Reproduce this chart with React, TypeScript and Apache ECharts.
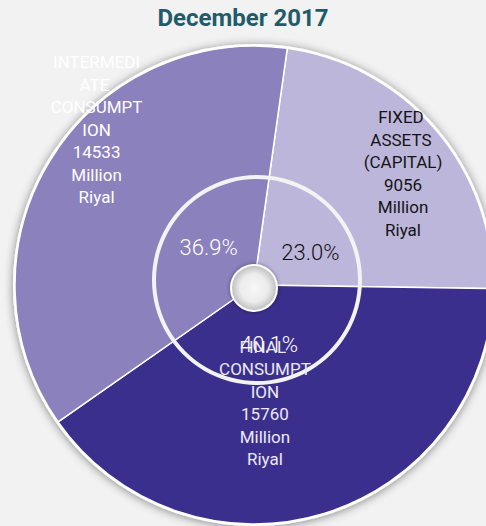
import React, { useEffect, useRef } from "react";
import * as echarts from "echarts";

const titleText = "December 2017";
const categories = ["FIXED ASSETS (CAPITAL)", "FINAL CONSUMPTION", "INTERMEDIATE CONSUMPTION"];
const values = [9056, 15760, 14533];
const unitLines = ["Million", "Riyal"];

const sliceColors = ["#bdb6db", "#3b2f8d", "#8b81bc"];
const nameColors = ["#141414", "#ebe9f4", "#ffffff"];
const pctColors = ["#111111", "#ffffff", "#ffffff"];

export default function App() {
  const ref = useRef<HTMLDivElement>(null);
  useEffect(() => {
    document.body.style.margin = "0";
    const chart = echarts.init(ref.current!, undefined, { renderer: "svg" });
    const center = [254, 285];
    const nameOffsets = [
      [56, -32],
      [-25, 1],
      [-53, -91],
    ];
    const pctOffsets = [
      [7, 10],
      [-4, -3],
      [10, -4],
    ];
    const option: any = {
      animation: false,
      backgroundColor: "#f2f2f2",
      title: {
        text: titleText,
        left: "center",
        top: 1,
        textStyle: { color: "#1f5b6b", fontSize: 24, fontWeight: "bold", fontFamily: "Roboto" },
      },
      series: [
        {
          type: "pie",
          silent: true,
          center,
          radius: [0, 241],
          label: { show: false },
          labelLine: { show: false },
          itemStyle: { color: "#ffffff", shadowBlur: 10, shadowColor: "rgba(0,0,0,0.45)", shadowOffsetY: 1 },
          data: [{ value: 1, name: "bg" }],
        },
        {
          type: "pie",
          center,
          radius: [0, 239],
          startAngle: 82,
          clockwise: true,
          silent: true,
          itemStyle: { borderColor: "#ffffff", borderWidth: 1.5 },
          labelLine: { show: false },
          label: {
            show: true,
            position: "inside",
            fontFamily: "Roboto",
            fontSize: 17,
            lineHeight: 22.5,
            width: 94,
            overflow: "break",
            align: "center",
            formatter: (p: any) => [p.name, String(p.value), ...unitLines].join("\n"),
          },
          labelLayout: (p: any) => ({ dx: nameOffsets[p.dataIndex][0], dy: nameOffsets[p.dataIndex][1] }),
          data: categories.map((c, i) => ({
            name: c,
            value: values[i],
            itemStyle: { color: sliceColors[i] },
            label: { color: nameColors[i] },
          })),
        },
        {
          type: "pie",
          center,
          radius: [0, 124],
          startAngle: 82,
          silent: true,
          percentPrecision: 1,
          itemStyle: { color: "rgba(0,0,0,0)" },
          labelLine: { show: false },
          label: {
            show: true,
            position: "inside",
            fontFamily: "Roboto",
            fontSize: 22,
            fontWeight: 300,
            formatter: (p: any) => Number(p.percent).toFixed(1) + "%",
          },
          labelLayout: (p: any) => ({ dx: pctOffsets[p.dataIndex][0], dy: pctOffsets[p.dataIndex][1] }),
          data: categories.map((c, i) => ({
            name: c,
            value: values[i],
            label: { color: pctColors[i] },
          })),
        },
        {
          type: "pie",
          silent: true,
          center: [257, 280],
          radius: [101, 105],
          label: { show: false },
          labelLine: { show: false },
          itemStyle: { color: "#f3f3f3" },
          data: [{ value: 1, name: "ring" }],
        },
      ],
      graphic: [
        {
          type: "circle",
          shape: { cx: 254, cy: 288, r: 23 },
          style: {
            fill: new echarts.graphic.RadialGradient(0.5, 0.5, 0.5, [
              { offset: 0, color: "#f7f7f7" },
              { offset: 0.6, color: "#ececec" },
              { offset: 1, color: "#bdbdbd" },
            ]),
            stroke: "#ffffff",
            lineWidth: 2,
            shadowBlur: 4,
            shadowColor: "rgba(0,0,0,0.4)",
          },
          z: 100,
        },
      ],
    };
    chart.setOption(option);
    return () => chart.dispose();
  }, []);
  return <div ref={ref} style={{ width: 486, height: 526 }} />;
}
